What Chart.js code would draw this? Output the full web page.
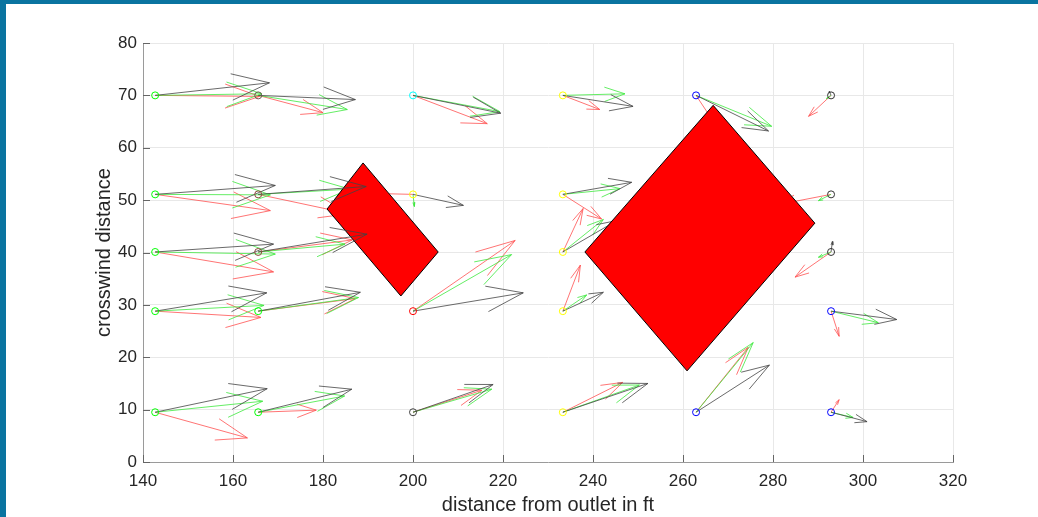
<!DOCTYPE html>
<html lang="en">
<head>
<meta charset="UTF-8">
<title>Crosswind vectors</title>
<script src="https://cdn.jsdelivr.net/npm/chart.js"></script>
<style>
  html, body { margin: 0; padding: 0; background: #0a74a0; overflow: hidden; }
  .frame { position: absolute; left: 6px; top: 4px; width: 1032px; height: 513px; background: #fff; }
</style>
</head>
<body>
<div class="frame"><canvas id="windChart" width="1032" height="513"></canvas></div>
<script>
// measurement stations
const baseX = [142.7, 142.7, 142.7, 142.7, 142.7,
               165.6, 165.6, 165.6, 165.6, 165.6,
               200, 200, 200, 200,
               233.3, 233.3, 233.3, 233.3, 233.3,
               262.9, 262.9,
               292.9, 292.9, 292.9, 292.9, 292.9];
const baseY = [70, 51.1, 40.1, 28.8, 9.5,
               70, 51.1, 40.1, 28.8, 9.5,
               70, 51.1, 28.8, 9.5,
               70, 51.1, 40.1, 28.8, 9.5,
               70, 9.5,
               70, 51.1, 40.1, 28.8, 9.5];
const stationColors = ['#00ff00', '#00ff00', '#00ff00', '#00ff00', '#00ff00',
                       '#6b5a50', '#8b4a3a', '#8b4a3a', '#00ff00', '#00ff00',
                       '#00ffff', '#ffff00', '#ff0000', '#404040',
                       '#ffff00', '#ffff00', '#ffff00', '#ffff00', '#ffff00',
                       '#0000ff', '#0000ff',
                       '#333333', '#333333', '#333333', '#0000ff', '#0000ff'];

// vector components per run
const blackU = [25.4, 26.7, 26.3, 24.8, 24.9, 21.6, 24.0, 24.2, 22.7, 20.8, 19.5, 11.2, 24.5, 17.8,
                15.6, 15.3, 12.0, 9.0, 18.9, 16.1, 16.3, -0.4, 0, 0.3, 14.6, 8.0];
const blackV = [2.4, 1.7, 1.5, 3.5, 4.5, -0.8, 1.5, 3.4, 3.6, 4.4, -3.4, -2.1, 3.5, 5.3,
                -2.1, 2.3, 6.0, 3.6, 5.5, -6.8, 9.0, 0.8, 0, 2.0, -1.6, -1.8];
const redU = [23.2, 25.6, 26.3, 23.5, 20.5, 14.4, 20.2, 20.9, 21.6, 12.9, 16.5, -10, 22.7, 15.3,
              8.2, 8.6, 4.5, 3.9, 13.3, 4.4, 11.6, -5.0, -12, -8.0, 1.8, 1.8];
const redV = [-0.2, -3.1, -3.8, -1.2, -4.9, -3.3, -3.7, 2.3, 2.4, 0.4, -5.4, 0.2, 13.5, 4.2,
              -2.7, -4.7, 8.3, 8.8, 5.7, -5.7, 12.4, -4.0, -2, -4.8, -4.8, 2.4];
const greenU = [23.7, 25.6, 26.7, 24.2, 23.9, 19.8, 20.4, 19.3, 22.3, 19.2, 19.3, 0.3, 21.9, 17.5,
                13.8, 12.7, 9.0, 5.3, 17.0, 16.8, 12.7, -1.0, -2.8, -2.8, 10.5, 4.9];
const greenV = [0.3, -0.1, -0.4, 1.1, 2.1, -2.7, 1.0, 1.5, 2.6, 3.1, -3.1, -2.3, 10.8, 4.4,
                0.3, 1.1, 6.2, 3.1, 5.2, -5.9, 13.3, -0.6, -1.2, -1.0, -2.2, -1.0];

// obstacles
const smallBlockX = [188.9, 205.6, 197.3, 180.9, 188.9];
const smallBlockY = [57.1, 40.1, 31.7, 48.3, 57.1];
const bigBlockX = [266.7, 289.3, 260.9, 238.2, 266.7];
const bigBlockY = [68.1, 45.6, 17.4, 40.1, 68.1];

const xTicks = [140, 160, 180, 200, 220, 240, 260, 280, 300, 320];
const yTicks = [0, 10, 20, 30, 40, 50, 60, 70, 80];

const HEAD = 0.33, WIDTH = 0.3;

function quiverPoints(u, v) {
    const pts = [];
    for (let i = 0; i < baseX.length; i++) {
        if (u[i] === 0 && v[i] === 0) continue;
        const tx = baseX[i] + u[i], ty = baseY[i] + v[i];
        pts.push({x: baseX[i], y: baseY[i]}, {x: tx, y: ty}, {x: tx, y: null});
        pts.push({x: tx - HEAD * (u[i] + WIDTH * v[i]), y: ty - HEAD * (v[i] - WIDTH * u[i])});
        pts.push({x: tx, y: ty});
        pts.push({x: tx - HEAD * (u[i] - WIDTH * v[i]), y: ty - HEAD * (v[i] + WIDTH * u[i])});
        pts.push({x: tx, y: null});
    }
    return pts;
}

function polygon(xs, ys) {
    return xs.map((x, i) => ({x: x, y: ys[i]}));
}

function quiverSet(u, v, color, order) {
    return {
        data: quiverPoints(u, v),
        showLine: true,
        spanGaps: false,
        borderColor: color,
        borderWidth: 0.8,
        pointRadius: 0,
        fill: false,
        order: order
    };
}

// MATLAB style inward ticks
const inwardTicks = {
    id: 'inwardTicks',
    afterDatasetsDraw(chart) {
        const {ctx, chartArea, scales} = chart;
        ctx.save();
        ctx.strokeStyle = '#666';
        ctx.lineWidth = 1;
        ctx.beginPath();
        xTicks.forEach(t => {
            const px = Math.round(scales.x.getPixelForValue(t)) + 0.5;
            ctx.moveTo(px, chartArea.bottom);
            ctx.lineTo(px, chartArea.bottom - 7);
        });
        yTicks.forEach(t => {
            const py = Math.round(scales.y.getPixelForValue(t)) + 0.5;
            ctx.moveTo(chartArea.left, py);
            ctx.lineTo(chartArea.left + 7, py);
        });
        ctx.stroke();
        ctx.restore();
    }
};

const font = {family: "'Liberation Sans', Arial, sans-serif", size: 17};

new Chart(document.getElementById('windChart'), {
    type: 'scatter',
    data: {
        datasets: [
            {
                data: polygon(bigBlockX, bigBlockY),
                showLine: true, fill: 'shape', tension: 0,
                backgroundColor: '#ff0000', borderColor: '#000', borderWidth: 1,
                pointRadius: 0, order: 0
            },
            {
                data: baseX.map((x, i) => ({x: x, y: baseY[i]})),
                pointStyle: 'circle', pointRadius: 3.5, pointBorderWidth: 1,
                pointBorderColor: stationColors, pointBackgroundColor: 'rgba(0,0,0,0)',
                order: 1
            },
            quiverSet(blackU, blackV, '#444444', 2),
            {
                data: polygon(smallBlockX, smallBlockY),
                showLine: true, fill: 'shape', tension: 0,
                backgroundColor: '#ff0000', borderColor: '#000', borderWidth: 1,
                pointRadius: 0, order: 3
            },
            quiverSet(greenU, greenV, '#3ee83e', 4),
            quiverSet(redU, redV, '#ff5050', 5)
        ]
    },
    options: {
        responsive: false,
        animation: false,
        devicePixelRatio: 1,
        layout: {padding: {top: 39, right: 85, bottom: 0, left: 0}},
        plugins: {legend: {display: false}, tooltip: {enabled: false}},
        scales: {
            x: {
                type: 'linear', min: 140, max: 320,
                afterFit: s => { s.height = 55; },
                afterBuildTicks: s => { s.ticks = xTicks.map(v => ({value: v})); },
                grid: {color: '#e8e8e8', drawTicks: false},
                border: {color: '#9a9a9a', width: 1},
                ticks: {color: '#262626', font: font, padding: 9, maxRotation: 0},
                title: {display: true, text: 'distance from outlet in ft', color: '#262626',
                        font: {family: font.family, size: 20}, padding: {top: 4, bottom: 0}}
            },
            y: {
                type: 'linear', min: 0, max: 80,
                afterFit: s => { s.width = 137; },
                afterBuildTicks: s => { s.ticks = yTicks.map(v => ({value: v})); },
                grid: {color: '#e8e8e8', drawTicks: false},
                border: {color: '#9a9a9a', width: 1},
                ticks: {color: '#262626', font: font, padding: 6},
                title: {display: true, text: 'crosswind distance', color: '#262626',
                        font: {family: font.family, size: 20}, padding: {top: 86, bottom: 0}}
            }
        }
    },
    plugins: [inwardTicks]
});
</script>
</body>
</html>
